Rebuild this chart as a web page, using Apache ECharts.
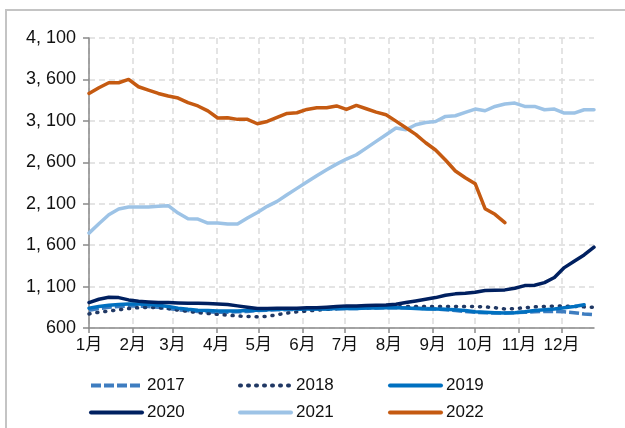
<!DOCTYPE html>
<html>
<head>
<meta charset="utf-8">
<script src="https://cdn.jsdelivr.net/npm/echarts@6/dist/echarts.min.js"></script>
<style>
html,body{margin:0;padding:0;background:#fff;}
#main{width:625px;height:428px;}
</style>
</head>
<body>
<div id="main"></div>
<script>
// Month start positions (day of year) and labels
var monthStarts = [0, 31, 59, 90, 120, 151, 181, 212, 243, 273, 304, 334];
var monthLabels = ['1月','2月','3月','4月','5月','6月','7月','8月','9月','10月','11月','12月'];
var yTicks = [600, 1100, 1600, 2100, 2600, 3100, 3600, 4100];
var years = ['2017','2018','2019','2020','2021','2022'];

// Weekly values (week index i -> day 7*i)
var s2017 = [815,835,850,860,865,865,860,850,835,820,810,800,795,790,790,795,800,810,815,820,820,825,825,830,830,830,835,835,840,840,845,845,845,840,835,830,820,810,800,790,785,780,780,785,790,795,800,800,795,785,770,760];
var s2018 = [770,790,805,820,835,845,850,845,835,815,800,785,775,765,755,745,740,735,740,760,780,795,805,815,825,835,840,845,845,850,850,855,860,860,860,860,860,860,860,860,855,845,830,835,845,855,860,865,865,860,855,850];
var s2019 = [840,860,875,885,890,890,885,875,860,840,825,815,810,805,805,805,810,815,820,825,830,830,830,830,830,835,835,835,840,840,845,845,840,835,830,830,825,820,810,795,790,785,780,785,795,810,820,830,845,860,880];
var s2020 = [907,947,971,967,939,923,915,907,907,903,899,899,895,891,883,867,851,835,835,839,839,839,843,843,851,859,867,867,871,875,879,887,907,927,947,967,995,1012,1020,1032,1052,1056,1060,1080,1112,1116,1148,1209,1329,1406,1482,1575];
var s2021 = [1745,1859,1967,2036,2060,2060,2060,2068,2076,1987,1919,1915,1867,1867,1855,1855,1927,1995,2068,2128,2209,2285,2361,2438,2510,2578,2639,2691,2771,2852,2932,3013,2992,3053,3081,3093,3154,3162,3202,3242,3222,3274,3303,3315,3274,3274,3234,3242,3194,3194,3234,3234];
var s2022 = [3431,3500,3560,3560,3600,3512,3471,3431,3400,3375,3320,3280,3220,3134,3138,3118,3118,3065,3093,3142,3190,3198,3238,3258,3258,3280,3238,3286,3246,3206,3174,3097,3017,2937,2836,2748,2627,2495,2414,2342,2040,1972,1871];

var seriesValues = [s2017, s2018, s2019, s2020, s2021, s2022];
var colors = ['#3E7DC0', '#203864', '#0070C0', '#002060', '#9DC3E6', '#C55A11'];
var lineTypes = [[10, 3], [1, 7], 'solid', 'solid', 'solid', 'solid'];
var caps = ['butt', 'round', 'round', 'round', 'round', 'round'];

function toXY(arr) {
  return arr.map(function (v, i) { return [i * 7, v]; });
}
function fmtY(v) {
  if (v >= 1000) {
    var r = String(v % 1000);
    while (r.length < 3) r = '0' + r;
    return Math.floor(v / 1000) + ', ' + r;
  }
  return String(v);
}

var font = '"Liberation Sans", "Noto Sans CJK SC", sans-serif';

var series = years.map(function (y, k) {
  return {
    name: y,
    type: 'line',
    data: toXY(seriesValues[k]),
    symbol: 'none',
    smooth: false,
    z: k === 5 ? 10 : (k === 4 ? 9 : (k === 3 ? 8 : 2 + k)),
    lineStyle: { color: colors[k], width: 3.5, type: lineTypes[k], cap: caps[k], join: 'round' },
    itemStyle: { color: colors[k] }
  };
});

var legendPos = [[89, 377], [238, 377], [388, 377], [89, 404], [238, 404], [388, 404]];
var legends = years.map(function (y, k) {
  return {
    data: [y],
    left: legendPos[k][0],
    top: legendPos[k][1],
    itemWidth: 51,
    itemHeight: 18,
    itemGap: 0,
    padding: 0,
    selectedMode: false,
    itemStyle: { opacity: 0 },
    lineStyle: { width: 4 },
    textStyle: { fontSize: 17, color: '#111', fontFamily: font, padding: [0, 0, 0, 0] }
  };
});

var chart = echarts.init(document.getElementById('main'), null, { renderer: 'canvas' });
chart.setOption({
  animation: false,
  backgroundColor: '#fff',
  color: colors,
  graphic: [{
    type: 'rect',
    shape: { x: 6, y: 10, width: 700, height: 600 },
    style: { fill: 'none', stroke: '#c4c4c4', lineWidth: 2 },
    silent: true
  }],
  legend: legends,
  grid: { left: 89, top: 38, right: 31, bottom: 100, containLabel: false },
  xAxis: {
    type: 'value',
    min: 0,
    max: 357,
    axisLine: { show: true, lineStyle: { color: '#8a8a8a', width: 1.5 } },
    axisTick: { show: true, length: 5, inside: false, customValues: monthStarts, lineStyle: { color: '#8a8a8a', width: 1.5 } },
    axisLabel: {
      customValues: monthStarts,
      margin: 9,
      fontSize: 17,
      color: '#111',
      fontFamily: font,
      formatter: function (v) { var i = monthStarts.indexOf(v); return i >= 0 ? monthLabels[i] : ''; }
    },
    splitLine: { show: true, lineStyle: { color: '#dcdcdc', width: 1.5, type: [6, 4] } }
  },
  yAxis: {
    type: 'value',
    min: 600,
    max: 4100,
    axisLine: { show: true, lineStyle: { color: '#8a8a8a', width: 1.5 } },
    axisTick: { show: true, length: 6, customValues: yTicks, lineStyle: { color: '#8a8a8a', width: 1.5 } },
    axisLabel: {
      customValues: yTicks,
      margin: 13,
      fontSize: 18,
      color: '#111',
      fontFamily: font,
      formatter: function (v) { return fmtY(v); }
    },
    splitLine: { show: true, lineStyle: { color: '#dcdcdc', width: 1.5, type: [6, 4] } }
  },
  series: series
});
</script>
</body>
</html>
